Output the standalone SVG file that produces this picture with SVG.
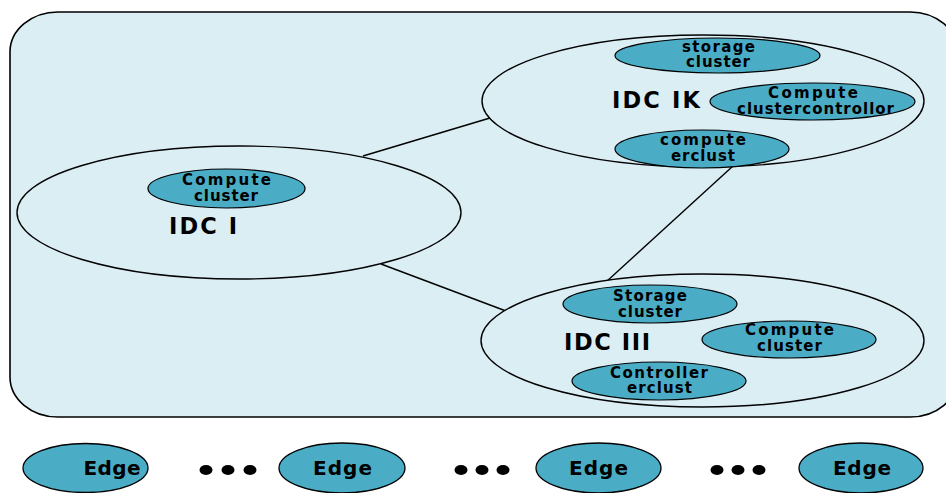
<svg xmlns="http://www.w3.org/2000/svg" width="946" height="493" viewBox="0 0 946 493">
  <style>
    .panel { fill: #DBEEF4; stroke: #000; stroke-width: 1.6; }
    .idc { fill: #DBEEF4; stroke: #000; stroke-width: 1.4; }
    .cluster { fill: #4BACC6; stroke: #000; stroke-width: 1.2; }
    .edge { fill: #4BACC6; stroke: #000; stroke-width: 1.3; }
    .link { stroke: #000; stroke-width: 1.4; fill: none; }
    .dot { fill: #000; }
    text { font-family: "DejaVu Sans", "Open Sans", sans-serif; font-weight: bold; fill: #000; text-anchor: middle; }
    .small { font-size: 15px; }
    .big { font-size: 22.5px; }
    .edgelabel { font-size: 20px; }
  </style>

  <!-- rounded background panel -->
  <rect class="panel" x="10" y="12" width="948" height="405" rx="48" ry="40"/>

  <!-- links between data centres -->
  <g id="connectors">
    <line class="link" x1="363" y1="156" x2="490" y2="118"/>
    <line class="link" x1="381" y1="264" x2="506" y2="311"/>
    <line class="link" x1="733" y1="166" x2="606" y2="282"/>
  </g>

  <g id="idc-1">
    <ellipse class="idc" cx="239" cy="212.5" rx="222" ry="66.5"/>
    <ellipse class="cluster" cx="226.5" cy="188.5" rx="78.5" ry="19.5"/>
    <text class="small" x="226.5" y="185" textLength="89">Compute</text>
    <text class="small" x="226" y="201" textLength="64">cluster</text>
    <text class="big" x="203" y="234" textLength="68">IDC I</text>
  </g>

  <g id="idc-ik">
    <ellipse class="idc" cx="703" cy="101" rx="221" ry="66"/>
    <ellipse class="cluster" cx="717.5" cy="55.5" rx="102.5" ry="17.5"/>
    <text class="small" x="718.5" y="52" textLength="73">storage</text>
    <text class="small" x="718" y="67" textLength="64">cluster</text>
    <text class="big" x="656" y="108" textLength="88">IDC IK</text>
    <ellipse class="cluster" cx="812.5" cy="101.5" rx="102.5" ry="18.5"/>
    <text class="small" x="813" y="98" textLength="90">Compute</text>
    <text class="small" x="815.5" y="114" textLength="157">clustercontrollor</text>
    <ellipse class="cluster" cx="702" cy="149" rx="87" ry="19"/>
    <text class="small" x="703" y="145" textLength="86">compute</text>
    <text class="small" x="703" y="161" textLength="64">erclust</text>
  </g>

  <g id="idc-3">
    <ellipse class="idc" cx="702.5" cy="340.5" rx="221.5" ry="66.5"/>
    <ellipse class="cluster" cx="650" cy="304" rx="87" ry="19"/>
    <text class="small" x="650" y="301" textLength="74">Storage</text>
    <text class="small" x="650" y="317" textLength="64">cluster</text>
    <text class="big" x="607" y="350" textLength="86">IDC III</text>
    <ellipse class="cluster" cx="789" cy="339.5" rx="87" ry="18.5"/>
    <text class="small" x="789.5" y="335" textLength="89">Compute</text>
    <text class="small" x="789.5" y="351" textLength="65">cluster</text>
    <ellipse class="cluster" cx="659" cy="381" rx="87" ry="19"/>
    <text class="small" x="659" y="378" textLength="98">Controller</text>
    <text class="small" x="659.5" y="393" textLength="65">erclust</text>
  </g>

  <!-- edge sites along the bottom -->
  <g id="edge-1">
    <ellipse class="edge" cx="85.5" cy="468" rx="62.5" ry="24.5"/>
    <text class="edgelabel" x="112" y="475" textLength="57">Edge</text>
  </g>
  <g id="dots-1">
    <ellipse class="dot" cx="206" cy="470" rx="6.5" ry="5"/>
    <ellipse class="dot" cx="228" cy="470" rx="6.5" ry="5"/>
    <ellipse class="dot" cx="250" cy="470" rx="6.5" ry="5"/>
  </g>
  <g id="edge-2">
    <ellipse class="edge" cx="342" cy="468" rx="63" ry="25"/>
    <text class="edgelabel" x="342.5" y="475" textLength="59">Edge</text>
  </g>
  <g id="dots-2">
    <ellipse class="dot" cx="461" cy="470" rx="6.5" ry="5"/>
    <ellipse class="dot" cx="482" cy="470" rx="6.5" ry="5"/>
    <ellipse class="dot" cx="503" cy="470" rx="6.5" ry="5"/>
  </g>
  <g id="edge-3">
    <ellipse class="edge" cx="598.5" cy="468" rx="62.5" ry="25"/>
    <text class="edgelabel" x="598.5" y="475" textLength="59">Edge</text>
  </g>
  <g id="dots-3">
    <ellipse class="dot" cx="717" cy="470" rx="6.5" ry="5"/>
    <ellipse class="dot" cx="738" cy="470" rx="6.5" ry="5"/>
    <ellipse class="dot" cx="759" cy="470" rx="6.5" ry="5"/>
  </g>
  <g id="edge-4">
    <ellipse class="edge" cx="861" cy="468" rx="62" ry="25"/>
    <text class="edgelabel" x="862" y="475" textLength="58">Edge</text>
  </g>
</svg>
